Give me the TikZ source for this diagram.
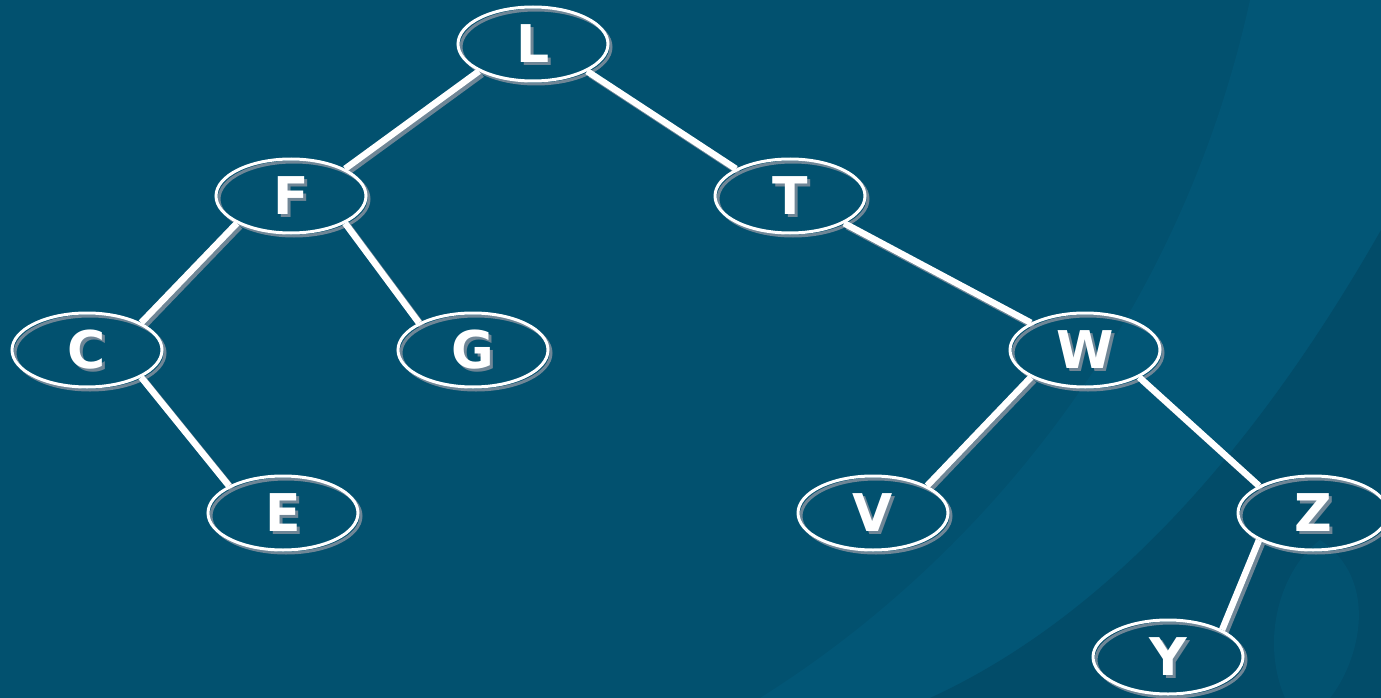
\documentclass[tikz,border=0pt]{standalone}
\usepackage{fontspec}
\setmainfont{DejaVu Sans}
\usetikzlibrary{shapes.geometric}
\definecolor{bg}{HTML}{02516F}
\definecolor{bglight}{HTML}{025676}
\definecolor{bgdark}{HTML}{024C69}
\definecolor{shad}{HTML}{6F8696}
\begin{document}
\begin{tikzpicture}[x=1pt,y=-1pt,
  nbase/.style={ellipse, line width=3pt, minimum width=150pt, minimum height=74pt,
    inner sep=0pt, font=\fontsize{52}{52}\selectfont\bfseries},
  tnode/.style={nbase, draw=white, text=white},
  snode/.style={nbase, draw=shad, text=shad},
  tedge/.style={white, line width=6.5pt},
  sedge/.style={shad, line width=6.5pt}]
\useasboundingbox (0,0) rectangle (1381,698);
\fill[bg] (0,0) rectangle (1381,698);
\fill[bglight] (1250,0) .. controls (1180,320) and (980,560) .. (760,698) -- (1381,698) -- (1381,0) -- cycle;
\fill[bgdark] (1381,230) .. controls (1250,460) and (1100,620) .. (930,698) -- (1381,698) -- cycle;
\fill[bglight, opacity=0.6] (1320,540) .. controls (1380,580) and (1360,660) .. (1330,698) -- (1285,698) .. controls (1260,640) and (1280,570) .. (1320,540) -- cycle;
% shadow nodes
\foreach \n/\x/\y in {L/533/44, F/291/196, T/790/196, C/87/350, G/473/350, W/1085/350, E/283/513, V/873/513, Z/1313/513, Y/1168/657}
  \node[snode] (s\n) at (\x+3,\y+3) {\n};
% shadow edges
\foreach \a/\b in {L/F, F/C, W/V, Z/Y}
  \draw[sedge] (s\a.south west) -- (s\b.north east);
\foreach \a/\b in {L/T, F/G, T/W, C/E, W/Z}
  \draw[sedge] (s\a.south east) -- (s\b.north west);
% main nodes
\foreach \n/\x/\y in {L/533/44, F/291/196, T/790/196, C/87/350, G/473/350, W/1085/350, E/283/513, V/873/513, Z/1313/513, Y/1168/657}
  \node[tnode] (\n) at (\x,\y) {\n};
% edges
\foreach \a/\b in {L/F, F/C, W/V, Z/Y}
  \draw[tedge] (\a.south west) -- (\b.north east);
\foreach \a/\b in {L/T, F/G, T/W, C/E, W/Z}
  \draw[tedge] (\a.south east) -- (\b.north west);
\end{tikzpicture}
\end{document}
